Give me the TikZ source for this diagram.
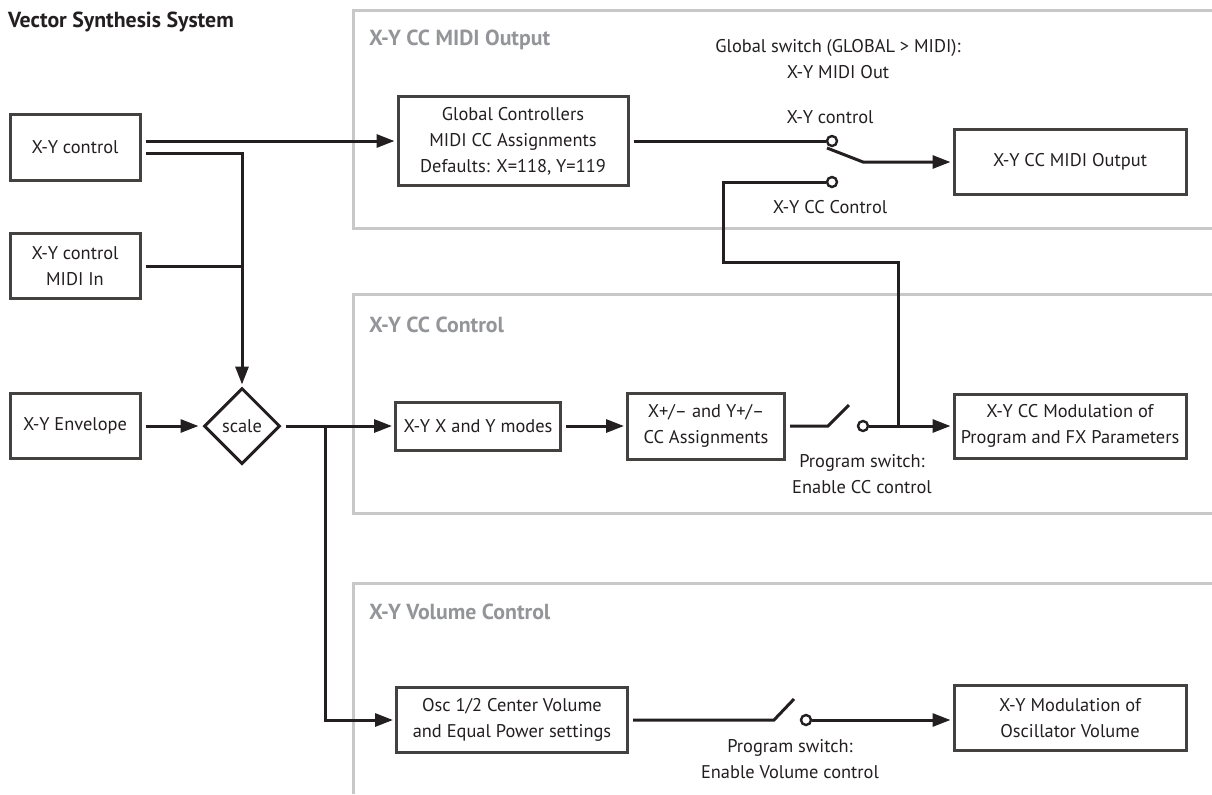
\documentclass[tikz,border=0pt]{standalone}
\usepackage{fontspec}
\setmainfont{PT Sans}
\usetikzlibrary{arrows.meta,shapes.geometric}
\definecolor{ink}{HTML}{231F20}
\definecolor{panelgray}{HTML}{C8C8C8}
\definecolor{headgray}{HTML}{939598}
\begin{document}
\begin{tikzpicture}[x=0.5pt,y=-0.5pt,>={Triangle[length=9pt,width=6.5pt]},
  every node/.style={font=\fontsize{9.2}{13}\selectfont,text=ink},
  box/.style={draw=ink!85,line width=1.5pt,align=center,inner sep=2pt},
  swpin/.style={circle,draw=ink,line width=1.2pt,fill=white,minimum size=5pt,inner sep=0pt},
  wire/.style={draw=ink,line width=1.5pt},
  panel/.style={draw=panelgray,line width=1.5pt},
  panelhead/.style={anchor=west,font=\fontsize{10.9}{13}\selectfont\bfseries,text=headgray},
  note/.style={align=center}]
  \useasboundingbox (0,0) rectangle (1212,794);
  \draw[panel] (1212,10) -| (353,228) -- (1212,228);
  \draw[panel] (1212,294) -| (353,513) -- (1212,513);
  \draw[panel] (1212,583) -| (353,794);
  \node[anchor=west,font=\fontsize{10.9}{13}\selectfont\bfseries] (title) at (1,22) {Vector Synthesis System};
  \node[panelhead] (head1) at (362,40) {X-Y CC MIDI Output};
  \node[panelhead] (head2) at (362,325) {X-Y CC Control};
  \node[panelhead] (head3) at (362,612) {X-Y Volume Control};
  \node[box,minimum width=65pt,minimum height=33pt] (ctl) at (75,147) {X-Y control};
  \node[box,minimum width=65pt,minimum height=32.5pt] (midiin) at (75,266) {X-Y control\\MIDI In};
  \node[box,minimum width=65pt,minimum height=32.5pt] (env) at (75,426) {X-Y Envelope};
  \node[diamond,draw=ink,line width=1.5pt,minimum size=38pt,inner sep=0pt] (scale) at (242,426) {scale};
  \node[box,minimum width=115pt,minimum height=44.5pt] (glob) at (513,141) {Global Controllers\\MIDI CC Assignments\\Defaults: X=118, Y=119};
  \node[box,minimum width=116pt,minimum height=32.5pt] (midiout) at (1070,162) {X-Y CC MIDI Output};
  \node[box,minimum width=82.5pt,minimum height=24pt] (modes) at (478,426) {X-Y X and Y modes};
  \node[box,minimum width=78.5pt,minimum height=33pt] (ccass) at (706,426) {X+/– and Y+/–\\CC Assignments};
  \node[box,minimum width=116pt,minimum height=32pt] (ccmod) at (1070,426) {X-Y CC Modulation of\\Program and FX Parameters};
  \node[box,minimum width=115.5pt,minimum height=32.5pt] (osc) at (512,720) {Osc 1/2 Center Volume\\and Equal Power settings};
  \node[box,minimum width=116pt,minimum height=32.5pt] (volmod) at (1070,718) {X-Y Modulation of\\Oscillator Volume};
  \node[swpin] (pinout) at (832,141) {};
  \node[swpin] (pincc) at (832,182) {};
  \node[swpin] (pinmod) at (863,426) {};
  \node[swpin] (pinvol) at (806,720) {};
  \node[note] (gsw) at (838,59) {Global switch (GLOBAL > MIDI):\\X-Y MIDI Out};
  \node[note] (lblout) at (830,117) {X-Y control};
  \node[note] (lblcc) at (830,207) {X-Y CC Control};
  \node[note] (psw1) at (862,474) {Program switch:\\Enable CC control};
  \node[note] (psw2) at (790,759) {Program switch:\\Enable Volume control};
  \coordinate (branch) at (325,426);
  \coordinate (join) at (898,426);
  \coordinate (back) at (723,262);
  \coordinate (blade1a) at (828,426);
  \coordinate (blade1b) at (849,405);
  \coordinate (blade2a) at (827,148);
  \coordinate (blade2b) at (863,162);
  \coordinate (blade3a) at (774,720);
  \coordinate (blade3b) at (794,699);
  \draw[wire,->] ([xshift=2pt,yshift=3pt]ctl.east) -- ([xshift=-1pt]glob.west);
  \draw[wire,->] ([xshift=2pt,yshift=-3pt]ctl.east) -| ([yshift=1pt]scale.north);
  \draw[wire] ([xshift=2pt]midiin.east) -- (midiin.east -| scale.north);
  \draw[wire,->] ([xshift=2pt]env.east) -- ([xshift=-2pt]scale.west);
  \draw[wire,->] ([xshift=2pt]scale.east) -- ([xshift=-1pt]modes.west);
  \draw[wire,->] (branch) |- ([xshift=-1pt]osc.west);
  \draw[wire,->] ([xshift=2pt]modes.east) -- ([xshift=-1pt]ccass.west);
  \draw[wire] ([xshift=2pt]ccass.east) -- (blade1a) -- (blade1b);
  \draw[wire,->] (pinmod) -- ([xshift=-1pt]ccmod.west);
  \draw[wire] (join) |- (back) |- (pincc);
  \draw[wire] ([xshift=2pt]glob.east) -- (pinout);
  \draw[wire,->] (blade2a) -- (blade2b) -- ([xshift=-1pt]midiout.west);
  \draw[wire] ([xshift=2pt]osc.east) -- (blade3a) -- (blade3b);
  \draw[wire,->] (pinvol) -- ([xshift=-1pt]pinvol -| volmod.west);
\end{tikzpicture}
\end{document}
